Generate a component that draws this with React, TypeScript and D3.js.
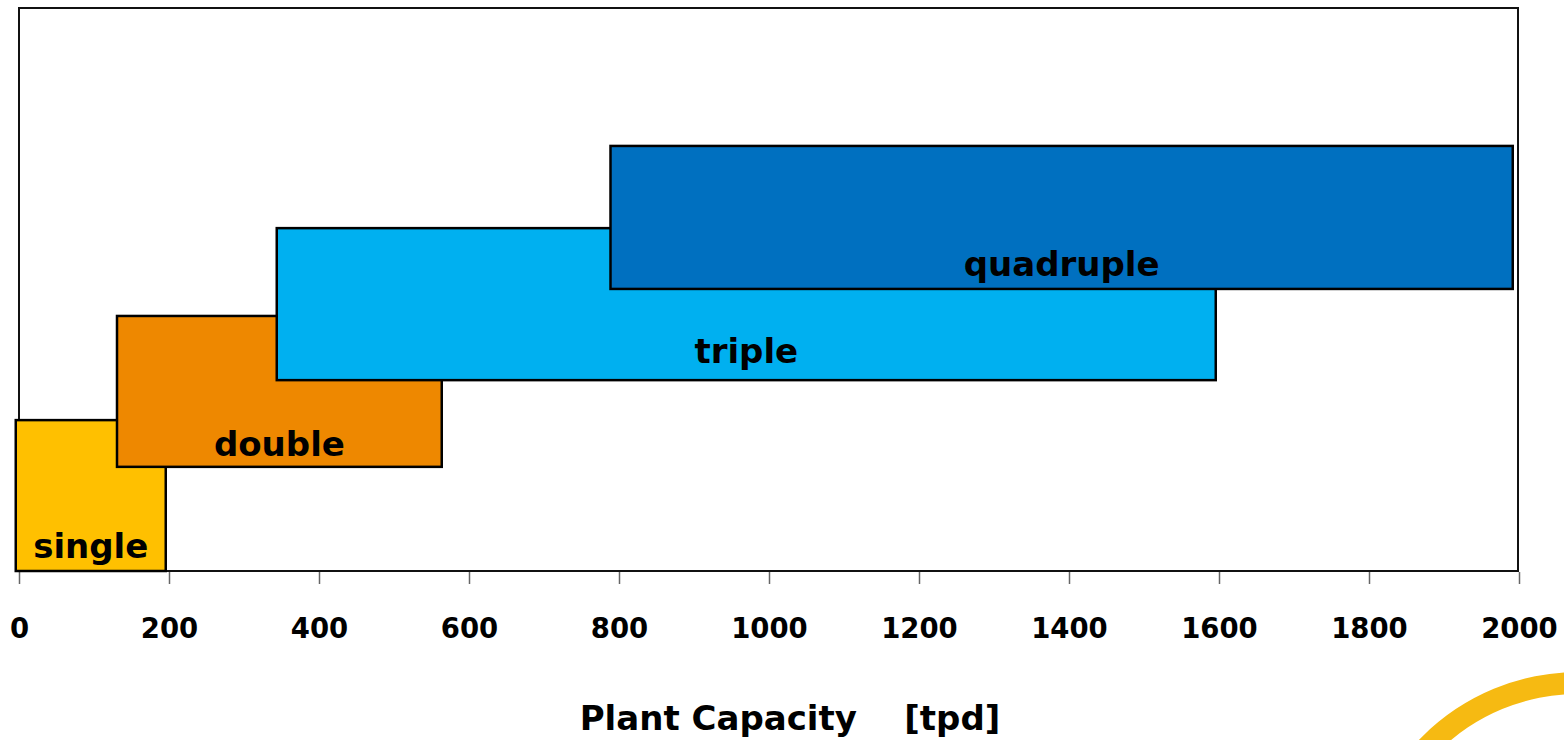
import React, { useEffect, useRef } from "react";
import * as d3 from "d3";

// plant configurations
const configs = ["single", "double", "triple", "quadruple"];
const capMin = [-5, 130, 343, 788];
const capMax = [195, 563, 1595, 1991];
const levelLow = [0, 18.5, 33.9, 50.1];
const levelHigh = [26.8, 45.3, 60.9, 75.5];
const xTicks = [0, 200, 400, 600, 800, 1000, 1200, 1400, 1600, 1800, 2000];

// styling
const colors = ["#FFC000", "#EE8800", "#00B0F0", "#0070C0"];
const labelLift = [13, 11, 17, 13];

const W = 1564;
const H = 740;
const FONT = "'DejaVu Sans', sans-serif";

function App() {
  const ref = useRef<SVGSVGElement>(null);

  useEffect(() => {
    const svg = d3.select(ref.current);
    svg.selectAll("*").remove();

    const x = d3.scaleLinear().domain([0, 2000]).range([19.5, 1519.5]);
    const y = d3.scaleLinear().domain([0, 100]).range([571, 8]);

    // frame
    svg
      .append("rect")
      .attr("x", 19)
      .attr("y", 8)
      .attr("width", 1499)
      .attr("height", 563)
      .attr("fill", "white")
      .attr("stroke", "#111")
      .attr("stroke-width", 2);

    // x axis
    const axis = svg.append("g").attr("transform", "translate(0,572)");
    axis
      .selectAll("line")
      .data(xTicks)
      .enter()
      .append("line")
      .attr("x1", (d) => x(d))
      .attr("x2", (d) => x(d))
      .attr("y1", 0)
      .attr("y2", 12)
      .attr("stroke", "#666")
      .attr("stroke-width", 1.5);
    axis
      .selectAll("text")
      .data(xTicks)
      .enter()
      .append("text")
      .attr("x", (d) => x(d))
      .attr("y", 66)
      .attr("text-anchor", "middle")
      .attr("font-family", FONT)
      .attr("font-weight", "bold")
      .attr("font-size", 27.5)
      .attr("fill", "#000")
      .text((d) => d);

    // bars
    const idx = d3.range(configs.length);
    svg
      .append("g")
      .selectAll("rect")
      .data(idx)
      .enter()
      .append("rect")
      .attr("x", (i) => x(capMin[i]))
      .attr("y", (i) => y(levelHigh[i]))
      .attr("width", (i) => x(capMax[i]) - x(capMin[i]))
      .attr("height", (i) => y(levelLow[i]) - y(levelHigh[i]))
      .attr("fill", (i) => colors[i])
      .attr("stroke", "#000")
      .attr("stroke-width", 2.5);

    svg
      .append("g")
      .selectAll("text")
      .data(idx)
      .enter()
      .append("text")
      .attr("x", (i) => x((capMin[i] + capMax[i]) / 2))
      .attr("y", (i) => y(levelLow[i]) - labelLift[i])
      .attr("text-anchor", "middle")
      .attr("font-family", FONT)
      .attr("font-weight", "bold")
      .attr("font-size", 34)
      .attr("fill", "#000")
      .text((i) => configs[i]);

    // axis title
    svg
      .append("text")
      .attr("x", 790)
      .attr("y", 730)
      .attr("text-anchor", "middle")
      .attr("font-family", FONT)
      .attr("font-weight", "bold")
      .attr("font-size", 34)
      .attr("fill", "#000")
      .attr("xml:space", "preserve")
      .style("white-space", "pre")
      .text("Plant Capacity    [tpd]");

    // decorative arc, bottom right
    const arc = d3
      .arc()
      .innerRadius(198)
      .outerRadius(220)
      .startAngle(-Math.PI)
      .endAngle(Math.PI);
    svg
      .append("path")
      .attr("transform", "translate(1578,892)")
      .attr("d", arc({} as any) as any)
      .attr("fill", "#F6BA12");
  }, []);

  return (
    <svg
      ref={ref}
      width={W}
      height={H}
      style={{ position: "absolute", left: 0, top: 0, background: "white" }}
    />
  );
}

export default App;
